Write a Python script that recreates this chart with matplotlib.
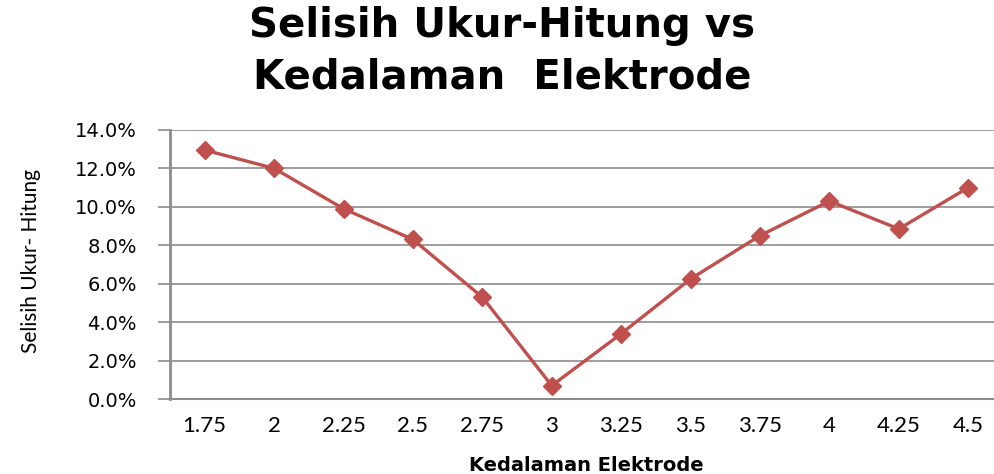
import matplotlib.pyplot as plt
from matplotlib.ticker import FuncFormatter

# data
depth_labels = ["1.75", "2", "2.25", "2.5", "2.75", "3", "3.25", "3.5", "3.75", "4", "4.25", "4.5"]
selisih_pct = [12.95, 12.0, 9.9, 8.3, 5.3, 0.7, 3.4, 6.25, 8.5, 10.3, 8.85, 11.0]

fig = plt.figure(figsize=(9.94, 4.74), dpi=100)
ax = fig.add_axes([0.171, 0.158, 0.838, 0.568])

x = range(len(depth_labels))
ax.plot(x, selisih_pct, color="#C0504D", linewidth=2.4, marker="D",
        markersize=9, markeredgecolor="#C0504D", markerfacecolor="#C0504D", zorder=3)

ax.set_xlim(-0.5, len(depth_labels) - 0.5)
ax.set_ylim(0, 14)
ax.set_yticks(range(0, 15, 2))
ax.yaxis.set_major_formatter(FuncFormatter(lambda v, _: f"{v:.1f}%"))
ax.set_xticks(list(x))
ax.set_xticklabels(depth_labels, family="Lato", fontsize=16)

ax.grid(axis="y", color="#8C8C8C", linewidth=1.2)
ax.set_axisbelow(True)
for side in ["top", "right"]:
    ax.spines[side].set_visible(False)
ax.spines["left"].set_color("#8C8C8C")
ax.spines["left"].set_linewidth(2)
ax.spines["bottom"].set_color("#8C8C8C")
ax.spines["bottom"].set_linewidth(1.5)
ax.tick_params(axis="y", length=9, width=1.2, color="#8C8C8C", pad=15, labelsize=14)
ax.tick_params(axis="x", length=0, pad=12)

ax.set_xlabel("Kedalaman Elektrode", fontweight="bold", fontsize=14)
ax.xaxis.set_label_coords(0.5, -0.212)
ax.set_ylabel("Selisih Ukur- Hitung", family="Lato", fontsize=15)
ax.yaxis.set_label_coords(-0.155, 0.513)

fig.text(0.505, 0.922, "Selisih Ukur-Hitung vs", ha="center", va="baseline",
         fontsize=29, fontweight="bold")
fig.text(0.505, 0.814, "Kedalaman  Elektrode", ha="center", va="baseline",
         fontsize=29, fontweight="bold")

fig.savefig("out.png", dpi=100)
